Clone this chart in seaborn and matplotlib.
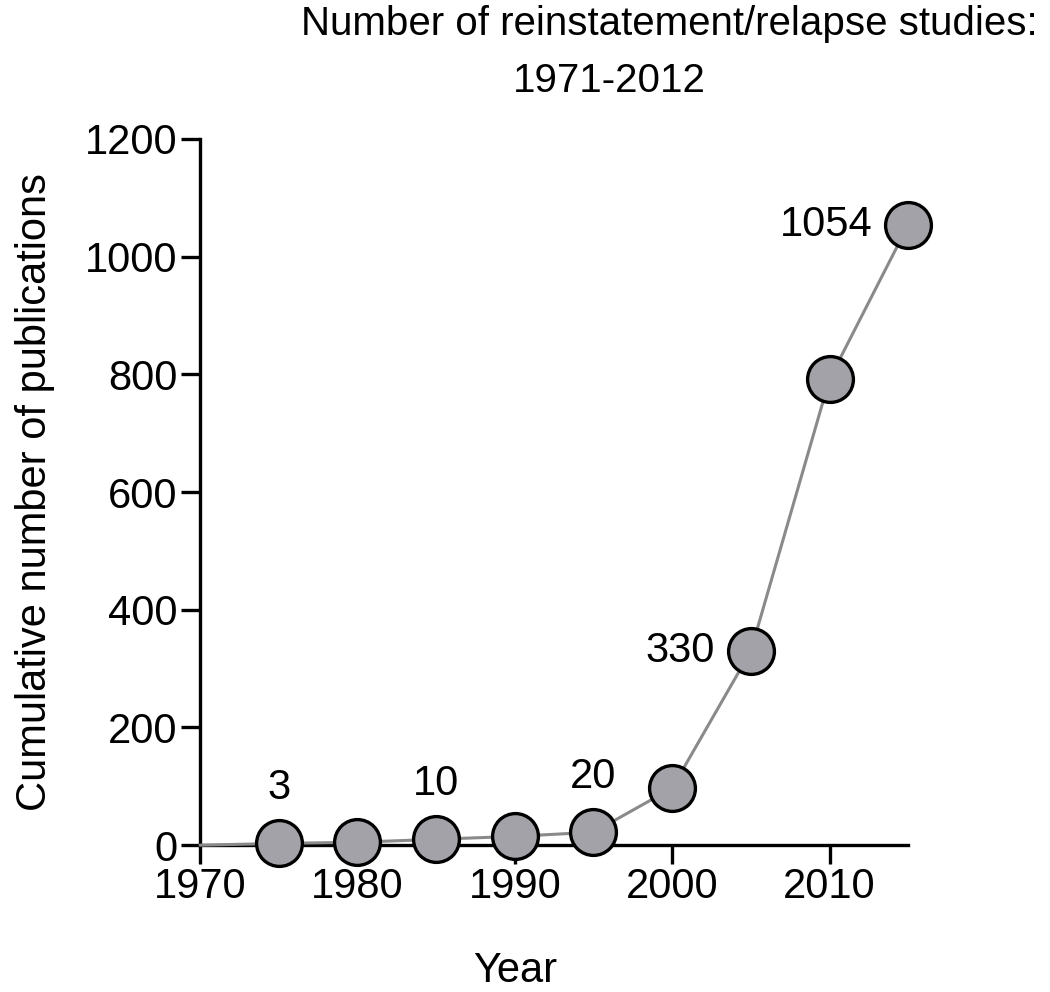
import numpy as np
import pandas as pd
import matplotlib
matplotlib.use("Agg")
import matplotlib.pyplot as plt
import seaborn as sns

# cumulative publication counts
years = [1970, 1975, 1980, 1985, 1990, 1995, 2000, 2005, 2010, 2015]
counts = [0, 3, 5, 10, 15, 22, 97, 330, 792, 1054]

# which points get a number printed next to them
label_years = [1975, 1985, 1995, 2005, 2015]
label_text = ["3", "10", "20", "330", "1054"]

xticks = [1970, 1980, 1990, 2000, 2010]
yticks = [0, 200, 400, 600, 800, 1000, 1200]

df = pd.DataFrame({"Year": years, "Publications": counts})

sns.set_style("ticks")
plt.rcParams["font.family"] = ["Liberation Sans", "DejaVu Sans"]
plt.rcParams["text.color"] = "black"
plt.rcParams["axes.labelcolor"] = "black"
plt.rcParams["xtick.color"] = "black"
plt.rcParams["ytick.color"] = "black"

fig = plt.figure(figsize=(10.5, 9.92), dpi=100)
ax = fig.add_axes([0.1905, 0.148, 0.6745, 0.712])

sns.lineplot(data=df, x="Year", y="Publications", ax=ax,
             color="#8a8a8a", linewidth=2.2,
             marker="o", markersize=33, markerfacecolor="#a2a2a8",
             markeredgecolor="black", markeredgewidth=2.4,
             markevery=list(range(1, len(years))), clip_on=False, zorder=3)

ax.set_xlim(1970, 2015)
ax.set_ylim(0, 1200)
ax.set_xticks(xticks)
ax.set_yticks(yticks)
ax.tick_params(axis="both", labelsize=30, length=14, width=2.4, pad=2,
               color="black", labelcolor="black")
sns.despine(ax=ax)
for s in ["left", "bottom"]:
    ax.spines[s].set_linewidth(2.4)
    ax.spines[s].set_color("black")

ax.set_xlabel("Year", fontsize=30)
ax.set_ylabel("Cumulative number of publications", fontsize=30)
ax.xaxis.set_label_coords(0.445, -0.15)
ax.yaxis.set_label_coords(-0.205, 0.5)

# value labels
count_of = dict(zip(years, counts))
for yr, txt in zip(label_years, label_text):
    if yr < 2000:
        ax.annotate(txt, (yr, count_of[yr]), xytext=(0, 40),
                    textcoords="offset points", ha="center", va="center",
                    fontsize=30)
    else:
        ax.annotate(txt, (yr, count_of[yr]), xytext=(-26, 0),
                    textcoords="offset points", ha="right", va="center",
                    fontsize=30)

fig.text(0.637, 0.976, "Number of reinstatement/relapse studies:",
         ha="center", va="center", fontsize=29)
fig.text(0.58, 0.918, "1971-2012", ha="center", va="center", fontsize=29)

fig.savefig("out.png", dpi=100)
